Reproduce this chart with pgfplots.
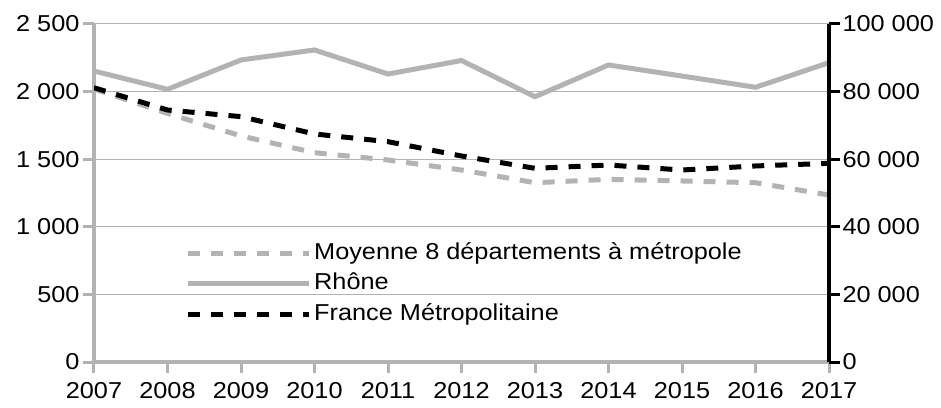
\documentclass[border=0pt]{standalone}
\usepackage{fontspec}
\setmainfont{Liberation Sans}[FakeStretch=1.1]
\usepackage{pgfplots}
\usepackage{pgfplotstable}
\pgfplotsset{compat=1.18}
\definecolor{lgray}{RGB}{179,179,179}

\pgfplotstableread{
year moy rhone
2007 2020 2152
2008 1839 2017
2009 1672 2234
2010 1548 2308
2011 1494 2130
2012 1420 2230
2013 1326 1962
2014 1351 2197
2015 1339 2115
2016 1326 2032
2017 1235 2214
}\lefttab

\pgfplotstableread{
year france
2007 81150
2008 74560
2009 72590
2010 67460
2011 65180
2012 60950
2013 57300
2014 58280
2015 56800
2016 58000
2017 58780
}\righttab

\begin{document}
\begin{tikzpicture}[font=\fontsize{23}{27}\selectfont]
\begin{axis}[
  at={(0,0)}, anchor=south west,
  scale only axis, width=735pt, height=338pt,
  xmin=2007, xmax=2017, ymin=0, ymax=2500,
  axis x line*=bottom, axis y line*=left,
  axis line style={lgray, line width=3.5pt},
  tick align=outside, major tick length=11pt,
  tick style={lgray, line width=3pt},
  ytick={0,500,1000,1500,2000,2500},
  yticklabels={0,500,1 000,1 500,2 000,2 500},
  xtick={2007,2008,2009,2010,2011,2012,2013,2014,2015,2016,2017},
  xticklabels={2007,2008,2009,2010,2011,2012,2013,2014,2015,2016,2017},
  xticklabel style={yshift=-6pt},
  ymajorgrids, grid style={lgray, line width=1pt},
  legend style={at={(91/735,123/338)}, anchor=north west, draw=none, fill=none,
    inner sep=0pt, row sep=2.5pt, column sep=1pt,
    nodes={text height=18pt, text depth=6pt, inner sep=2pt}},
  legend cell align=left,
  legend image code/.code={\draw[#1] (0pt,0pt) -- (121pt,0pt);},
]
\addplot[lgray, line width=5pt, dash pattern=on 12pt off 11pt] table[x=year,y=moy] {\lefttab};
\addlegendentry{Moyenne 8 départements à métropole}
\addplot[lgray, line width=5pt] table[x=year,y=rhone] {\lefttab};
\addlegendentry{Rhône}
\addlegendimage{black, line width=5pt, dash pattern=on 12pt off 11pt}
\addlegendentry{France Métropolitaine}
\end{axis}
\begin{axis}[
  at={(0,0)}, anchor=south west,
  scale only axis, width=735pt, height=338pt,
  xmin=2007, xmax=2017, ymin=0, ymax=100000,
  axis x line=none, axis y line*=right,
  axis line style={black, line width=3.5pt},
  tick align=outside, major tick length=11pt,
  tick style={black, line width=3pt},
  scaled y ticks=false,
  ytick={0,20000,40000,60000,80000,100000},
  yticklabels={0,20 000,40 000,60 000,80 000,100 000},
  yticklabel style={xshift=-1pt},
]
\addplot[black, line width=5pt, dash pattern=on 12pt off 11pt] table[x=year,y=france] {\righttab};
\end{axis}
\pgfresetboundingbox
\path[use as bounding box] (-94pt,-45pt) rectangle (847pt,362pt);
\end{tikzpicture}
\end{document}
